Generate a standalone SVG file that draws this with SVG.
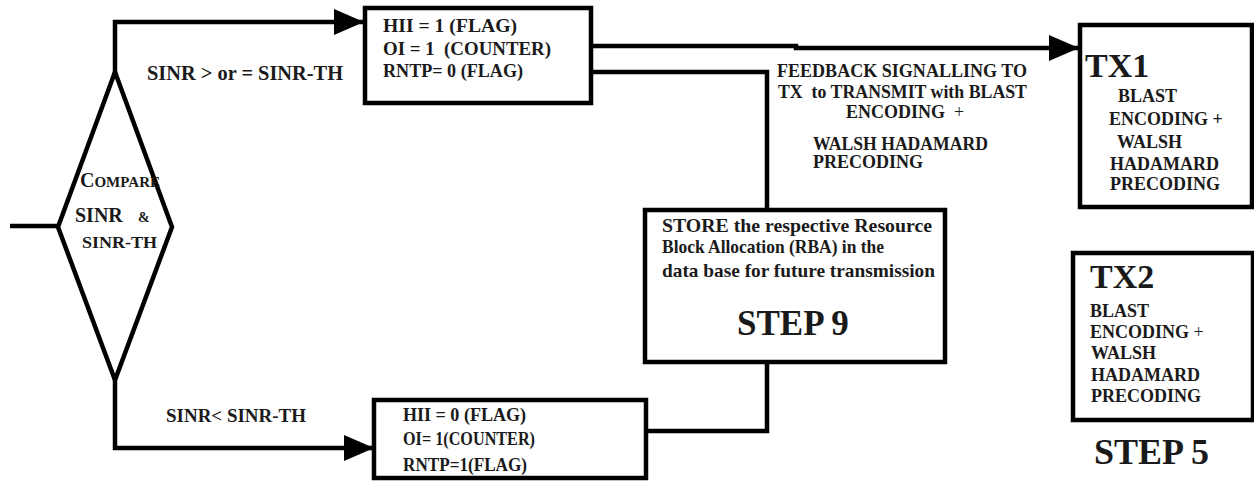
<svg xmlns="http://www.w3.org/2000/svg" width="1254" height="482" viewBox="0 0 1254 482">
<style>
text{font-family:"Liberation Serif","Times New Roman",serif;font-weight:bold;fill:#1a1a1a;white-space:pre}
.box{fill:#fff;stroke:#000;stroke-width:4.5}
.ln{fill:none;stroke:#000;stroke-width:4.5;stroke-linejoin:miter}
.t18{font-size:18px}
.t19{font-size:19px}
.big{font-size:34px}
</style>
<defs>
<marker id="ah" markerUnits="userSpaceOnUse" markerWidth="32" markerHeight="26" refX="30" refY="13" orient="auto">
<path d="M0,0 L30,13 L0,26 z" fill="#000"/>
</marker>
</defs>
<rect width="1254" height="482" fill="#fff"/>

<g id="connectors">
<path class="ln" d="M10,226 L58,226"/>
<path class="ln" d="M115,74 L115,22 L364,22" marker-end="url(#ah)"/>
<path class="ln" d="M592,46 L796,46 L796,48 L1079,48" marker-end="url(#ah)"/>
<path class="ln" d="M592,72 L767,72 L767,210"/>
<path class="ln" d="M767,362 L767,431 L646,431"/>
<path class="ln" d="M115,378 L115,448 L374,448" marker-end="url(#ah)"/>
</g>

<g id="label-ge">
<text x="147" y="80" font-size="20" textLength="196" lengthAdjust="spacingAndGlyphs">SINR &gt; or = SINR-TH</text>
</g>
<g id="label-lt">
<text class="t18" x="166" y="422" textLength="140" lengthAdjust="spacingAndGlyphs">SINR&lt; SINR-TH</text>
</g>

<g id="compare">
<polygon class="box" points="58,227 115,72 172,227 115,380"/>
<text x="80" y="187"><tspan font-size="20">C</tspan><tspan font-size="15">OMPARE</tspan></text>
<text x="75" y="222" font-size="20">SINR</text>
<text x="138" y="222" font-size="14">&amp;</text>
<text x="82" y="248" font-size="16" textLength="75" lengthAdjust="spacingAndGlyphs">SINR-TH</text>
</g>

<g id="flags-high">
<rect class="box" x="365" y="8" width="226" height="95"/>
<text class="t19" x="383" y="32" textLength="134" lengthAdjust="spacingAndGlyphs">HII = 1 (FLAG)</text>
<text class="t19" x="383" y="55" textLength="168" lengthAdjust="spacingAndGlyphs">OI = 1  (COUNTER)</text>
<text x="383" y="77" font-size="18" textLength="140" lengthAdjust="spacingAndGlyphs">RNTP= 0 (FLAG)</text>
</g>

<g id="feedback">
<text class="t18" x="777" y="77" textLength="250" lengthAdjust="spacingAndGlyphs">FEEDBACK SIGNALLING TO</text>
<text class="t18" x="778" y="98" textLength="249" lengthAdjust="spacingAndGlyphs">TX  to TRANSMIT with BLAST</text>
<text class="t18" x="846" y="118">ENCODING  <tspan font-weight="normal">+</tspan></text>
<text class="t18" x="813" y="150" textLength="175" lengthAdjust="spacingAndGlyphs">WALSH HADAMARD</text>
<text class="t18" x="813" y="168">PRECODING</text>
</g>

<g id="tx1">
<rect class="box" x="1080" y="25" width="172" height="182"/>
<text class="big" x="1085" y="77">TX1</text>
<text class="t18" x="1118" y="102">BLAST</text>
<text class="t18" x="1109" y="125">ENCODING +</text>
<text class="t18" x="1117" y="148">WALSH</text>
<text class="t18" x="1110" y="170">HADAMARD</text>
<text class="t18" x="1110" y="190">PRECODING</text>
</g>

<g id="store">
<rect class="box" x="645" y="210" width="300" height="152"/>
<text x="662" y="232" font-size="19" textLength="270" lengthAdjust="spacingAndGlyphs">STORE the respective Resource</text>
<text x="662" y="253" font-size="19" textLength="222" lengthAdjust="spacingAndGlyphs">Block Allocation (RBA) in the</text>
<text x="662" y="277" font-size="19" textLength="273" lengthAdjust="spacingAndGlyphs">data base for future transmission</text>
<text x="737" y="335" font-size="35">STEP 9</text>
</g>

<g id="tx2">
<rect class="box" x="1073" y="253" width="180" height="167"/>
<text class="big" x="1090" y="288">TX2</text>
<text class="t18" x="1090" y="317">BLAST</text>
<text class="t18" x="1090" y="338">ENCODING <tspan font-weight="normal">+</tspan></text>
<text class="t18" x="1091" y="359">WALSH</text>
<text class="t18" x="1091" y="381">HADAMARD</text>
<text class="t18" x="1091" y="402">PRECODING</text>
</g>
<g id="step5">
<text x="1094" y="464" font-size="36">STEP 5</text>
</g>

<g id="flags-low">
<rect class="box" x="374" y="400" width="272" height="78"/>
<text class="t18" x="403" y="421" textLength="123" lengthAdjust="spacingAndGlyphs">HII = 0 (FLAG)</text>
<text class="t18" x="403" y="445" textLength="132" lengthAdjust="spacingAndGlyphs">OI= 1(COUNTER)</text>
<text class="t18" x="403" y="471" textLength="124" lengthAdjust="spacingAndGlyphs">RNTP=1(FLAG)</text>
</g>
</svg>
